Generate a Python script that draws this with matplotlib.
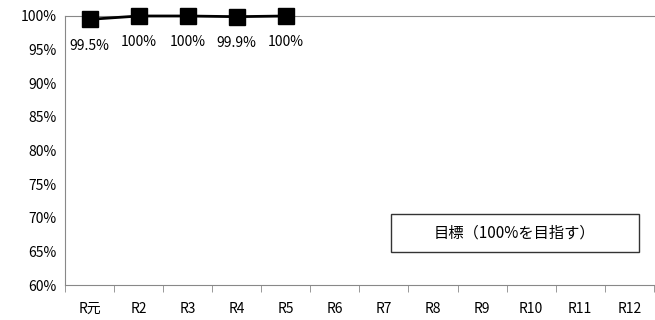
import matplotlib
matplotlib.use("Agg")
import matplotlib.pyplot as plt
from matplotlib.patches import Rectangle

plt.rcParams['font.family'] = ['Noto Sans CJK JP', 'DejaVu Sans']

# data
categories = ["R元", "R2", "R3", "R4", "R5", "R6", "R7", "R8", "R9", "R10", "R11", "R12"]
values = [99.5, 100, 100, 99.9, 100]
labels = ["99.5%", "100%", "100%", "99.9%", "100%"]
yticks = [60, 65, 70, 75, 80, 85, 90, 95, 100]

fig = plt.figure(figsize=(6.55, 3.2), dpi=100)
ax = fig.add_axes([0.0992, 0.109, 0.899, 0.841])

x = list(range(len(values)))
ax.plot(x, values, color="black", lw=2, marker="s", markersize=11,
        markerfacecolor="black", markeredgecolor="black", clip_on=False, zorder=5)
for xi, v, lab in zip(x, values, labels):
    ax.annotate(lab, (xi, v), xytext=(0, -14), textcoords="offset points",
                ha="center", va="top", fontsize=10)

ax.set_xlim(-0.5, len(categories) - 0.5)
ax.set_ylim(60, 100)
ax.set_yticks(yticks)
ax.set_yticklabels([f"{t}%" for t in yticks], fontsize=10)
ax.set_xticks(range(len(categories)))
ax.set_xticklabels(categories, fontsize=10)
ax.set_xticks([i - 0.5 for i in range(len(categories) + 1)], minor=True)
ax.tick_params(axis="x", which="major", length=0, pad=12)
ax.tick_params(axis="x", which="minor", length=5, color="#888888")
ax.tick_params(axis="y", length=0, pad=6)

for s in ["left", "bottom", "top"]:
    ax.spines[s].set_color("#888888")
ax.spines["right"].set_visible(False)

# target box
ax.add_patch(Rectangle((0.554, 0.123), 0.42, 0.141, transform=ax.transAxes,
                       facecolor="white", edgecolor="#333333", lw=1, zorder=6))
ax.text(0.764, 0.193, "目標（100%を目指す）", transform=ax.transAxes, ha="center", va="center",
        fontsize=11, zorder=7)

fig.savefig("out.png", dpi=100)
